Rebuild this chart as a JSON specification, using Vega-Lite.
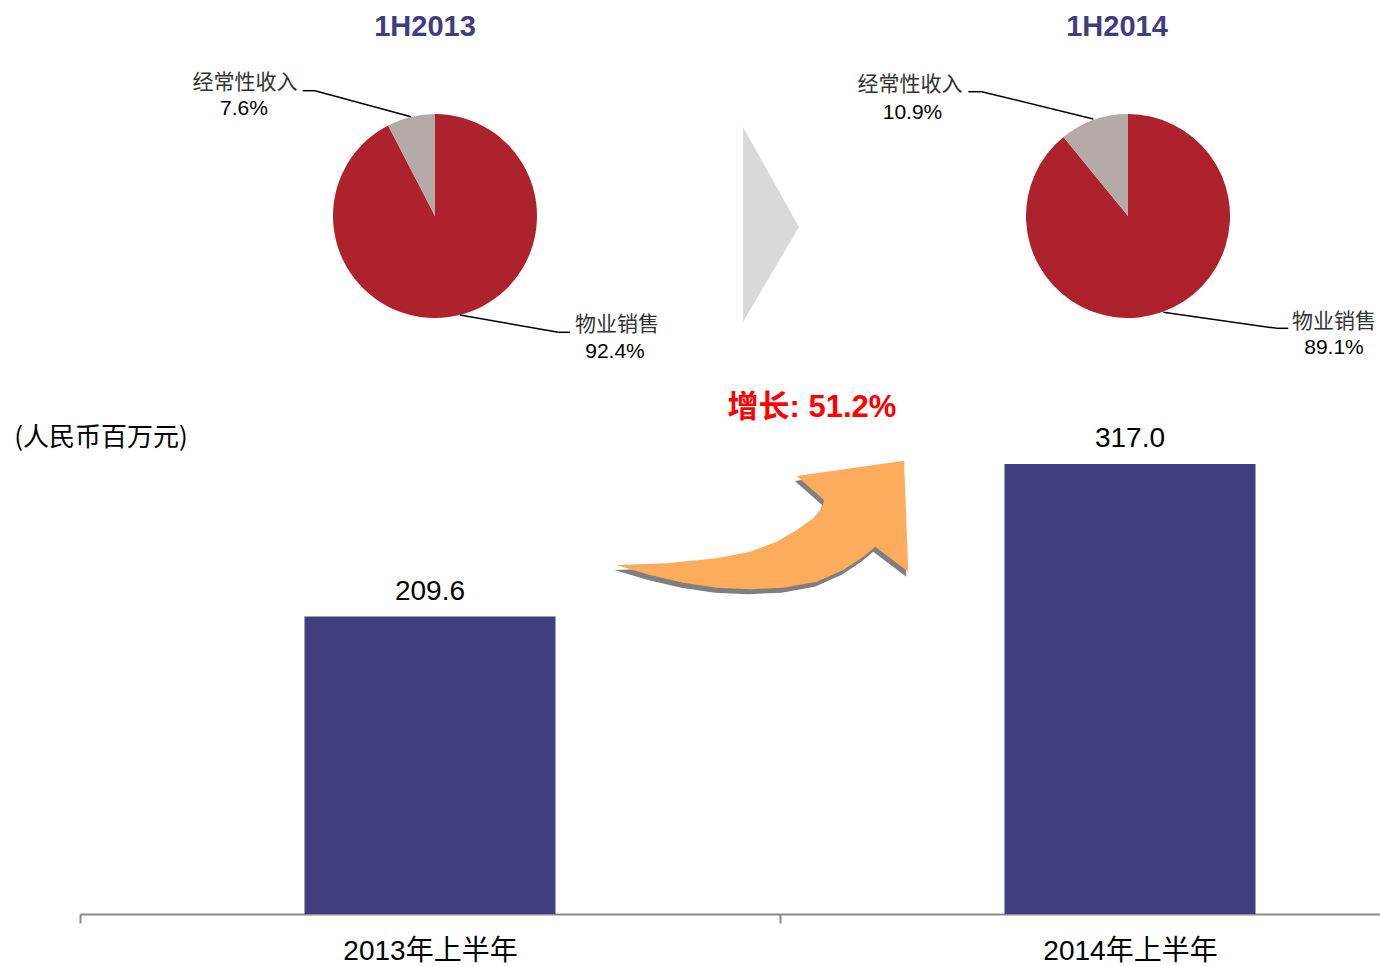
{
  "$schema": "https://vega.github.io/schema/vega-lite/v6.json",
  "width": 1300,
  "height": 914,
  "autosize": {"type": "none"},
  "padding": {"left": 80, "top": 0, "right": 0, "bottom": 52},
  "config": {
    "view": {"stroke": null},
    "font": "Liberation Sans, Noto Sans CJK SC",
    "text": {"font": "Liberation Sans, Noto Sans CJK SC"}
  },
  "datasets": {
    "bars": [
      {"period": "2013年上半年", "value": 209.6},
      {"period": "2014年上半年", "value": 317.0}
    ],
    "pies": [
      {"year": "1H2013", "category": "物业销售", "share": 0.924},
      {"year": "1H2013", "category": "经常性收入", "share": 0.076},
      {"year": "1H2014", "category": "物业销售", "share": 0.891},
      {"year": "1H2014", "category": "经常性收入", "share": 0.109}
    ]
  },
  "resolve": {"scale": {"x": "independent"}},
  "layer": [
    {
      "data": {"name": "bars"},
      "encoding": {
        "x": {
          "field": "period", "type": "nominal", "sort": null,
          "scale": {"range": [0, 1400], "paddingInner": 0, "paddingOuter": 0},
          "axis": {
            "title": null, "labelAngle": 0, "labelFontSize": 28, "labelColor": "#000000", "labelLimit": 0,
            "labelFont": "Liberation Sans, Noto Sans CJK SC",
            "domainColor": "#8a8a8a", "domainWidth": 2, "tickColor": "#8a8a8a", "tickWidth": 2,
            "tickSize": 9, "tickBand": "extent", "labelPadding": 14, "grid": false
          }
        },
        "y": {
          "field": "value", "type": "quantitative",
          "scale": {"domain": [0, 644], "nice": false, "zero": false},
          "axis": null
        }
      },
      "layer": [
        {"mark": {"type": "bar", "width": {"band": 0.3586}, "color": "#413E7F"}},
        {
          "mark": {"type": "text", "baseline": "alphabetic", "dy": -17, "fontSize": 28, "color": "#000000"},
          "encoding": {"text": {"field": "value", "type": "quantitative", "format": ".1f"}}
        }
      ]
    },
    {
      "layer": [
        {
          "data": {"name": "pies"},
          "transform": [
            {"filter": "datum.year == '1H2013'"},
            {"stack": "share", "groupby": ["year"], "sort": [{"field": "share", "order": "descending"}], "as": ["t0", "t1"]}
          ],
          "mark": {"type": "arc", "outerRadius": 102},
          "encoding": {
            "x": {"datum": 355, "type": "quantitative", "stack": null, "axis": null, "scale": {"domain": [0, 1300], "nice": false, "zero": false}},
            "y": {"datum": 491.81, "type": "quantitative", "stack": null, "axis": null},
            "theta": {"field": "t0", "type": "quantitative", "scale": {"domain": [0, 1]}},
            "theta2": {"field": "t1"},
            "color": {"field": "category", "type": "nominal", "scale": {"domain": ["物业销售", "经常性收入"], "range": ["#AE222D", "#B5AAA7"]}, "legend": null}
          }
        },
        {
          "data": {"name": "pies"},
          "transform": [
            {"filter": "datum.year == '1H2014'"},
            {"stack": "share", "groupby": ["year"], "sort": [{"field": "share", "order": "descending"}], "as": ["t0", "t1"]}
          ],
          "mark": {"type": "arc", "outerRadius": 102},
          "encoding": {
            "x": {"datum": 1048, "type": "quantitative", "stack": null, "axis": null},
            "y": {"datum": 491.81, "type": "quantitative", "stack": null, "axis": null},
            "theta": {"field": "t0", "type": "quantitative"},
            "theta2": {"field": "t1"},
            "color": {"field": "category", "type": "nominal", "legend": null}
          }
        },
        {
          "data": {"name": "pies"},
          "transform": [{"filter": "datum.year == '1H2013' && datum.category == '物业销售'"}],
          "mark": {"type": "text", "fontSize": 29, "fontWeight": "bold", "color": "#3F3D80", "align": "center", "baseline": "middle"},
          "encoding": {
            "x": {"datum": 345, "type": "quantitative", "axis": null},
            "y": {"datum": 624.98, "type": "quantitative", "axis": null},
            "text": {"field": "year"}
          }
        },
        {
          "data": {"name": "pies"},
          "transform": [{"filter": "datum.year == '1H2014' && datum.category == '物业销售'"}],
          "mark": {"type": "text", "fontSize": 29, "fontWeight": "bold", "color": "#3F3D80", "align": "center", "baseline": "middle"},
          "encoding": {
            "x": {"datum": 1037, "type": "quantitative", "axis": null},
            "y": {"datum": 624.98, "type": "quantitative", "axis": null},
            "text": {"field": "year"}
          }
        },
        {
          "data": {"name": "pies"},
          "transform": [{"filter": "datum.year == '1H2013' && datum.category == '经常性收入'"}],
          "mark": {"type": "text", "fontSize": 21, "color": "#333333", "align": "center", "baseline": "middle"},
          "encoding": {
            "x": {"datum": 165, "type": "quantitative", "axis": null},
            "y": {"datum": 585.52, "type": "quantitative", "axis": null},
            "text": {"field": "category"}
          }
        },
        {
          "data": {"name": "pies"},
          "transform": [{"filter": "datum.year == '1H2013' && datum.category == '经常性收入'"}],
          "mark": {"type": "text", "fontSize": 21, "color": "#000000", "align": "center", "baseline": "middle"},
          "encoding": {
            "x": {"datum": 164, "type": "quantitative", "axis": null},
            "y": {"datum": 567.2, "type": "quantitative", "axis": null},
            "text": {"field": "share", "type": "quantitative", "format": ".1%"}
          }
        },
        {
          "data": {"name": "pies"},
          "transform": [{"filter": "datum.year == '1H2013' && datum.category == '物业销售'"}],
          "mark": {"type": "text", "fontSize": 21, "color": "#333333", "align": "center", "baseline": "middle"},
          "encoding": {
            "x": {"datum": 537, "type": "quantitative", "axis": null},
            "y": {"datum": 415.01, "type": "quantitative", "axis": null},
            "text": {"field": "category"}
          }
        },
        {
          "data": {"name": "pies"},
          "transform": [{"filter": "datum.year == '1H2013' && datum.category == '物业销售'"}],
          "mark": {"type": "text", "fontSize": 21, "color": "#000000", "align": "center", "baseline": "middle"},
          "encoding": {
            "x": {"datum": 535, "type": "quantitative", "axis": null},
            "y": {"datum": 396.19, "type": "quantitative", "axis": null},
            "text": {"field": "share", "type": "quantitative", "format": ".1%"}
          }
        },
        {
          "data": {"name": "pies"},
          "transform": [{"filter": "datum.year == '1H2014' && datum.category == '经常性收入'"}],
          "mark": {"type": "text", "fontSize": 21, "color": "#333333", "align": "center", "baseline": "middle"},
          "encoding": {
            "x": {"datum": 830, "type": "quantitative", "axis": null},
            "y": {"datum": 584.11, "type": "quantitative", "axis": null},
            "text": {"field": "category"}
          }
        },
        {
          "data": {"name": "pies"},
          "transform": [{"filter": "datum.year == '1H2014' && datum.category == '经常性收入'"}],
          "mark": {"type": "text", "fontSize": 21, "color": "#000000", "align": "center", "baseline": "middle"},
          "encoding": {
            "x": {"datum": 832.5, "type": "quantitative", "axis": null},
            "y": {"datum": 564.17, "type": "quantitative", "axis": null},
            "text": {"field": "share", "type": "quantitative", "format": ".1%"}
          }
        },
        {
          "data": {"name": "pies"},
          "transform": [{"filter": "datum.year == '1H2014' && datum.category == '物业销售'"}],
          "mark": {"type": "text", "fontSize": 21, "color": "#333333", "align": "center", "baseline": "middle"},
          "encoding": {
            "x": {"datum": 1254, "type": "quantitative", "axis": null},
            "y": {"datum": 417.33, "type": "quantitative", "axis": null},
            "text": {"field": "category"}
          }
        },
        {
          "data": {"name": "pies"},
          "transform": [{"filter": "datum.year == '1H2014' && datum.category == '物业销售'"}],
          "mark": {"type": "text", "fontSize": 21, "color": "#000000", "align": "center", "baseline": "middle"},
          "encoding": {
            "x": {"datum": 1254, "type": "quantitative", "axis": null},
            "y": {"datum": 398.59, "type": "quantitative", "axis": null},
            "text": {"field": "share", "type": "quantitative", "format": ".1%"}
          }
        },
        {
          "data": {"values": [{}]},
          "mark": {"type": "rule", "color": "#000000", "strokeWidth": 1.5},
          "encoding": {
            "x": {"datum": 222.7, "type": "quantitative", "axis": null},
            "x2": {"datum": 235},
            "y": {"datum": 580.09, "type": "quantitative", "axis": null},
            "y2": {"datum": 580.09}
          }
        },
        {
          "data": {"values": [{}]},
          "mark": {"type": "rule", "color": "#000000", "strokeWidth": 1.5},
          "encoding": {
            "x": {"datum": 235, "type": "quantitative", "axis": null},
            "x2": {"datum": 331},
            "y": {"datum": 580.09, "type": "quantitative", "axis": null},
            "y2": {"datum": 561.77}
          }
        },
        {
          "data": {"values": [{}]},
          "mark": {"type": "rule", "color": "#000000", "strokeWidth": 1.5},
          "encoding": {
            "x": {"datum": 380, "type": "quantitative", "axis": null},
            "x2": {"datum": 478.3},
            "y": {"datum": 422.05, "type": "quantitative", "axis": null},
            "y2": {"datum": 409.86}
          }
        },
        {
          "data": {"values": [{}]},
          "mark": {"type": "rule", "color": "#000000", "strokeWidth": 1.5},
          "encoding": {
            "x": {"datum": 478.3, "type": "quantitative", "axis": null},
            "x2": {"datum": 490},
            "y": {"datum": 409.86, "type": "quantitative", "axis": null},
            "y2": {"datum": 409.86}
          }
        },
        {
          "data": {"values": [{}]},
          "mark": {"type": "rule", "color": "#000000", "strokeWidth": 1.5},
          "encoding": {
            "x": {"datum": 888.3, "type": "quantitative", "axis": null},
            "x2": {"datum": 901.7},
            "y": {"datum": 579.39, "type": "quantitative", "axis": null},
            "y2": {"datum": 579.39}
          }
        },
        {
          "data": {"values": [{}]},
          "mark": {"type": "rule", "color": "#000000", "strokeWidth": 1.5},
          "encoding": {
            "x": {"datum": 901.7, "type": "quantitative", "axis": null},
            "x2": {"datum": 1013.3},
            "y": {"datum": 579.39, "type": "quantitative", "axis": null},
            "y2": {"datum": 560.15}
          }
        },
        {
          "data": {"values": [{}]},
          "mark": {"type": "rule", "color": "#000000", "strokeWidth": 1.5},
          "encoding": {
            "x": {"datum": 1083.3, "type": "quantitative", "axis": null},
            "x2": {"datum": 1196.7},
            "y": {"datum": 423.95, "type": "quantitative", "axis": null},
            "y2": {"datum": 412.68}
          }
        },
        {
          "data": {"values": [{}]},
          "mark": {"type": "rule", "color": "#000000", "strokeWidth": 1.5},
          "encoding": {
            "x": {"datum": 1196.7, "type": "quantitative", "axis": null},
            "x2": {"datum": 1208.3},
            "y": {"datum": 412.68, "type": "quantitative", "axis": null},
            "y2": {"datum": 412.68}
          }
        },
        {
          "data": {"values": [{}]},
          "mark": {"type": "point", "shape": "M-0.2872,-1 L0.2872,0.0256 L-0.2872,1 Z", "size": 38025, "filled": true, "color": "#D9D9D9", "opacity": 1, "strokeWidth": 0},
          "encoding": {
            "x": {"datum": 691, "type": "quantitative", "axis": null},
            "y": {"datum": 485.82, "type": "quantitative", "axis": null}
          }
        },
        {
          "data": {"values": [{}]},
          "mark": {"type": "point", "shape": "M-1,0.274 L-0.653,0.262 L-0.31,0.228 L-0.082,0.183 L0.101,0.114 L0.238,0.034 L0.351,-0.046 L0.409,-0.114 L0.425,-0.171 L0.238,-0.336 L0.973,-0.44 L1.002,0.32 L0.776,0.149 L0.694,0.217 L0.557,0.308 L0.375,0.388 L0.146,0.429 L-0.082,0.44 L-0.31,0.429 L-0.539,0.395 L-0.767,0.342 Z", "size": 85264, "filled": true, "color": "#7F7F7F", "opacity": 1, "strokeWidth": 0},
          "encoding": {
            "x": {"datum": 680, "type": "quantitative", "axis": null},
            "y": {"datum": 270.56, "type": "quantitative", "axis": null}
          }
        },
        {
          "data": {"values": [{}]},
          "mark": {"type": "point", "shape": "M-1,0.274 L-0.653,0.262 L-0.31,0.228 L-0.082,0.183 L0.101,0.114 L0.238,0.034 L0.351,-0.046 L0.409,-0.114 L0.425,-0.171 L0.238,-0.336 L0.973,-0.44 L1.002,0.32 L0.776,0.149 L0.694,0.217 L0.557,0.308 L0.375,0.388 L0.146,0.429 L-0.082,0.44 L-0.31,0.429 L-0.539,0.395 L-0.767,0.342 Z", "size": 85264, "filled": true, "color": "#FDAB5C", "opacity": 1, "strokeWidth": 0},
          "encoding": {
            "x": {"datum": 682, "type": "quantitative", "axis": null},
            "y": {"datum": 274.09, "type": "quantitative", "axis": null}
          }
        },
        {
          "data": {"values": [{}]},
          "mark": {"type": "text", "text": "增长: 51.2%", "fontSize": 31, "fontWeight": "bold", "color": "#FF0000", "align": "center", "baseline": "middle"},
          "encoding": {
            "x": {"datum": 732, "type": "quantitative", "axis": null},
            "y": {"datum": 356.53, "type": "quantitative", "axis": null}
          }
        },
        {
          "data": {"values": [{}]},
          "mark": {"type": "text", "text": "(人民币百万元)", "fontSize": 26, "color": "#000000", "align": "center", "baseline": "middle", "font": "Noto Sans CJK SC"},
          "encoding": {
            "x": {"datum": 21, "type": "quantitative", "axis": null},
            "y": {"datum": 335.39, "type": "quantitative", "axis": null}
          }
        }
      ]
    }
  ]
}
